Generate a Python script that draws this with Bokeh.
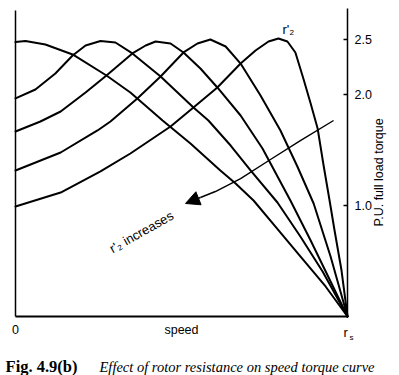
import math
from bokeh.plotting import figure
from bokeh.models import LinearAxis, FixedTicker, Label, Arrow, NormalHead, Range1d
from bokeh.embed import file_html
from bokeh.resources import INLINE

# per-unit speed (0 = standstill, 1 = synchronous speed) and per-unit torque
speed_a = [0.0, 0.030, 0.090, 0.172, 0.274, 0.346, 0.443, 0.527, 0.617, 0.663, 0.717, 0.783, 0.858, 0.934, 1.0]
torque_a = [2.477, 2.486, 2.455, 2.365, 2.175, 2.022, 1.769, 1.561, 1.318, 1.200, 1.047, 0.812, 0.542, 0.271, 0.0]

speed_b = [0.0, 0.060, 0.120, 0.172, 0.211, 0.256, 0.301, 0.352, 0.437, 0.536, 0.581, 0.648, 0.708, 0.789, 0.858, 0.925, 1.0]
torque_b = [1.968, 2.049, 2.193, 2.356, 2.446, 2.486, 2.473, 2.374, 2.166, 1.886, 1.769, 1.543, 1.318, 1.029, 0.722, 0.406, 0.0]

speed_c = [0.0, 0.075, 0.136, 0.211, 0.274, 0.352, 0.392, 0.422, 0.467, 0.506, 0.557, 0.608, 0.678, 0.744, 0.828, 0.889, 0.949, 1.0]
torque_c = [1.670, 1.760, 1.850, 2.022, 2.175, 2.374, 2.446, 2.482, 2.464, 2.383, 2.238, 2.067, 1.814, 1.516, 1.047, 0.686, 0.316, 0.0]

speed_d = [0.0, 0.136, 0.247, 0.286, 0.367, 0.437, 0.506, 0.548, 0.587, 0.633, 0.678, 0.738, 0.798, 0.849, 0.898, 0.949, 1.0]
torque_d = [1.318, 1.480, 1.679, 1.760, 1.968, 2.166, 2.383, 2.464, 2.500, 2.437, 2.283, 1.995, 1.679, 1.354, 1.020, 0.542, 0.0]

speed_e = [0.0, 0.136, 0.256, 0.346, 0.467, 0.536, 0.608, 0.678, 0.723, 0.762, 0.792, 0.819, 0.843, 0.867, 0.889, 0.910, 0.928, 0.946, 0.961, 0.982, 1.0]
torque_e = [0.993, 1.119, 1.309, 1.471, 1.715, 1.886, 2.067, 2.283, 2.401, 2.482, 2.509, 2.482, 2.383, 2.148, 1.922, 1.697, 1.363, 1.047, 0.776, 0.415, 0.0]

arrow_speed = [0.958, 0.858, 0.768, 0.678, 0.602, 0.557]
arrow_torque = [1.769, 1.588, 1.417, 1.245, 1.128, 1.074]
arrow_tip = (0.512, 1.020)

torque_ticks = [1.0, 2.0, 2.5]
torque_tick_labels = {1.0: "1.0", 2.0: "2.0", 2.5: "2.5"}
speed_ticks = [0.0, 0.5]
speed_tick_labels = {0.0: "0", 0.5: "speed"}

SANS = "Liberation Sans"
SERIF = "Liberation Serif"

p = figure(width=399, height=375,
           x_range=Range1d(-0.0452, 1.1566), y_range=Range1d(-0.5325, 2.852),
           output_backend="svg", toolbar_location=None,
           x_axis_location=None, y_axis_location=None,
           min_border_left=0, min_border_right=0, min_border_top=0, min_border_bottom=0)
p.grid.visible = False
p.outline_line_color = None
p.background_fill_color = "white"
p.border_fill_color = "white"

for xs, ys in [(speed_a, torque_a), (speed_b, torque_b), (speed_c, torque_c),
               (speed_d, torque_d), (speed_e, torque_e)]:
    p.line(xs, ys, line_color="black", line_width=2, line_join="round", line_cap="round")

# bottom axis
xax = LinearAxis(fixed_location=0.0, bounds=(0.0, 1.0),
                 ticker=FixedTicker(ticks=speed_ticks), major_label_overrides=speed_tick_labels,
                 major_tick_line_color=None, major_tick_in=0, major_tick_out=0,
                 minor_tick_line_color=None, minor_tick_in=0, minor_tick_out=0,
                 axis_line_color="black", axis_line_width=2,
                 major_label_standoff=7, major_label_text_font=SANS,
                 major_label_text_font_size="12.5px", major_label_text_color="black")
p.add_layout(xax, "below")

# left axis (plain line)
lax = LinearAxis(fixed_location=0.0, bounds=(0.0, 2.76),
                 ticker=FixedTicker(ticks=[]), major_tick_line_color=None, minor_tick_line_color=None,
                 axis_line_color="black", axis_line_width=1.5, major_label_standoff=0,
                 major_label_text_font_size="0px")
p.add_layout(lax, "left")

# right axis
rax = LinearAxis(fixed_location=1.0, bounds=(0.0, 2.78),
                 ticker=FixedTicker(ticks=torque_ticks), major_label_overrides=torque_tick_labels,
                 major_tick_in=4, major_tick_out=0, minor_tick_line_color=None,
                 minor_tick_in=0, minor_tick_out=0,
                 axis_line_color="black", axis_line_width=1.5, major_tick_line_width=1.5,
                 major_label_standoff=7, major_label_text_font=SANS,
                 major_label_text_font_size="12.5px", major_label_text_color="black")
p.add_layout(rax, "right")

p.add_layout(Label(x=1.096, y=1.30, text="P.U. full load torque", angle=math.pi / 2,
                   text_align="center", text_baseline="middle", text_font=SANS,
                   text_font_size="12.5px", text_color="black"))

# arrow "r'2 increases"
p.line(arrow_speed, arrow_torque, line_color="black", line_width=1.4)
p.add_layout(Arrow(end=NormalHead(size=14, fill_color="black", line_color="black"),
                   x_start=arrow_speed[-1], y_start=arrow_torque[-1],
                   x_end=arrow_tip[0], y_end=arrow_tip[1],
                   line_color="black", line_width=1.4))

p.add_layout(Label(x=0.286, y=0.605, text="r'\u2082 increases", angle=math.radians(29.5),
                   text_align="left", text_baseline="alphabetic", text_font=SANS,
                   text_font_size="13px", text_color="black"))

p.add_layout(Label(x=0.804, y=2.59, text="r'\u2082", text_align="left", text_baseline="alphabetic",
                   text_font=SANS, text_font_size="13px", text_color="black"))

# r_s at synchronous speed
p.add_layout(Label(x=0.988, y=-0.144, text="r", text_align="left", text_baseline="alphabetic",
                   text_font=SANS, text_font_size="13px", text_color="black"))
p.add_layout(Label(x=1.006, y=-0.19, text="s", text_align="left", text_baseline="alphabetic",
                   text_font=SANS, text_font_size="8px", text_color="black"))

# caption
p.add_layout(Label(x=-0.030, y=-0.455, text="Fig. 4.9(b)", text_align="left", text_baseline="alphabetic",
                   text_font=SERIF, text_font_style="bold", text_font_size="16.5px", text_color="black"))
p.add_layout(Label(x=0.253, y=-0.455, text="Effect of rotor resistance on speed torque curve",
                   text_align="left", text_baseline="alphabetic",
                   text_font=SERIF, text_font_style="italic", text_font_size="14.5px", text_color="black"))

open("out.html", "w").write(file_html(p, INLINE))
